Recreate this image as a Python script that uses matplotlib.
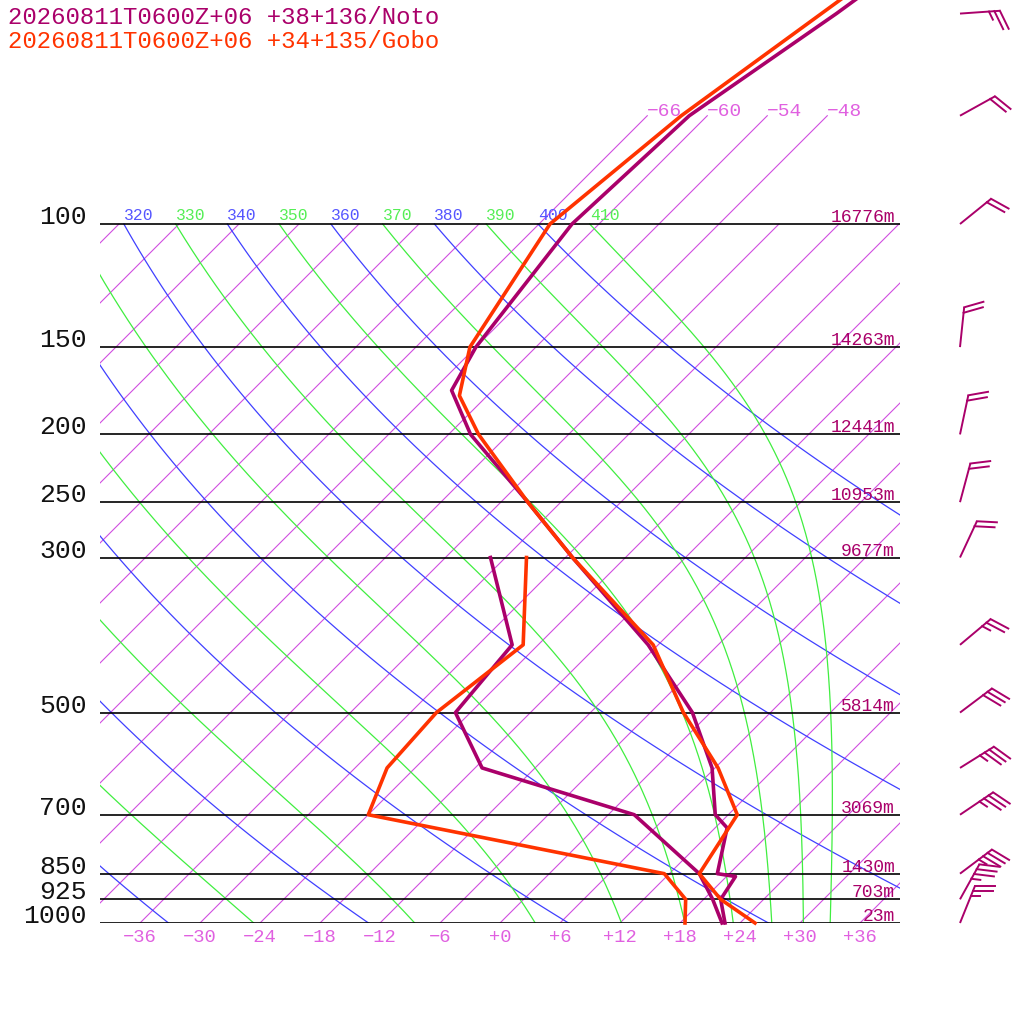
import numpy as np
import matplotlib
matplotlib.use("Agg")
import matplotlib.pyplot as plt
from matplotlib import transforms

plt.rcParams['font.family'] = ['Liberation Mono', 'DejaVu Sans Mono']

# ---------------- data ----------------
noto_name = "20260811T0600Z+06 +38+136/Noto"
gobo_name = "20260811T0600Z+06 +34+135/Gobo"

noto_t_p = [1000, 925, 858, 850, 731, 700, 600, 500, 400, 300, 250, 200, 173, 150, 100, 70, 50, 40]
noto_t = [22.5, 19.7, 18.9, 16.8, 13.2, 10.7, 5.7, -1.8, -13.0, -29.3, -39.3, -51.8, -58.1, -60.0, -62.7, -61.8, -57.3, -54.8]
noto_td_p = [1000, 925, 850, 700, 600, 500, 400, 300]
noto_td = [22.2, 18.9, 15.0, 2.6, -17.3, -25.5, -26.6, -37.5]

gobo_t_p = [1000, 925, 850, 700, 600, 500, 400, 300, 250, 200, 176, 150, 100, 70, 50, 40]
gobo_t = [25.5, 19.7, 15.0, 12.9, 6.3, -2.7, -12.5, -29.3, -39.3, -51.0, -56.8, -60.6, -64.9, -62.6, -58.8, -56.3]
gobo_td_p = [1000, 925, 850, 700, 600, 500, 400, 300]
gobo_td = [18.5, 16.2, 11.5, -24.0, -26.8, -27.4, -25.5, -33.9]

levels = [1000, 925, 850, 700, 500, 300, 250, 200, 150, 100]
heights = ["23m", "703m", "1430m", "3069m", "5814m", "9677m", "10953m", "12441m", "14263m", "16776m"]

# Noto winds (direction from, speed kt)
wind_p = [50, 70, 100, 150, 200, 250, 300, 400, 500, 600, 700, 850, 925, 1000]
wind_dir = [86, 61, 51, 6, 12, 15, 25, 50, 53, 58, 56, 53, 29, 22]
wind_spd = [25, 20, 20, 20, 20, 20, 20, 25, 30, 35, 35, 35, 35, 25]

iso_t = list(range(-108, 37, 6))
iso_top_t = [-66, -60, -54, -48]
t_ticks = list(range(-36, 37, 6))
dry_theta = [240, 260, 280, 300, 320, 340, 360, 380, 400]
moist_theta = [250, 270, 290, 310, 330, 350, 370, 390, 410]

noto_c = '#aa006a'
gobo_c = '#ff3300'
iso_c = '#d04ee0'
iso_lab_c = '#e060e0'
dry_c = '#4040ff'
moist_c = '#40ee40'

# ---------------- figure ----------------
W, H = 1024, 1024
fig = plt.figure(figsize=(W / 100, H / 100), dpi=100)
ax = fig.add_axes([100 / W, 101 / H, 800 / W, 923 / H])
ax.set_yscale('log')
ax.set_xlim(-40, 40)
p_top = 1000 * 10 ** (-923 / 699)
ax.set_ylim(1000, p_top)
ax.set_axis_off()

# 45 degree skew in screen space
skew = transforms.Affine2D(np.array([[1, 923 / 800, 0], [0, 1, 0], [0, 0, 1]]))
sk = ax.transScale + ax.transLimits + skew + ax.transAxes


def off(t, dx=0, dy=0):
    return transforms.offset_copy(t, fig=fig, x=dx, y=dy, units='dots')


def theta_label(tt, th, color):
    # only labels that reach into the plot box
    if tt >= -114:
        ax.text(tt, 100, str(th), transform=off(sk, 0, 4), ha='left', va='baseline',
                color=color, fontsize=11.8, clip_on=True)


# isotherms
for t in iso_t:
    top = 70 if t in iso_top_t else 100
    ax.plot([t, t], [1000, top], transform=sk, color=iso_c, lw=0.8, zorder=1)
for t in iso_top_t:
    ax.text(t, 70, f"{t:+d}".replace('-', '\u2212'), transform=off(sk, 0, 4),
            ha='left', va='center', color=iso_lab_c, fontsize=14)

# dry adiabats
pp = np.geomspace(1000, 100, 80)
for th in dry_theta:
    tt = th * (pp / 1000) ** 0.286 - 273.15
    ax.plot(tt, pp, transform=sk, color=dry_c, lw=0.9, zorder=1)
    theta_label(tt[-1], th, '#5555ff')


# moist adiabats: integrate the saturated lapse rate down from 100 hPa
Rd, Cp, Lv, eps = 287.04, 1004.67, 2.501e6, 0.622


def dT_dlnp(tk, p):
    tc = tk - 273.15
    es = 6.112 * np.exp(17.67 * tc / (tc + 243.5))
    rs = eps * es / (p - es)
    return (Rd * tk + Lv * rs) / (Cp + Lv * Lv * rs * eps / (Rd * tk * tk))


lnp = np.linspace(np.log(100), np.log(1000), 240)
for th in moist_theta:
    tk = th * 0.1 ** 0.286
    tl = [tk]
    for i in range(len(lnp) - 1):
        h = lnp[i + 1] - lnp[i]
        p0, p1, pm = np.exp(lnp[i]), np.exp(lnp[i + 1]), np.exp(lnp[i] + h / 2)
        k1 = dT_dlnp(tk, p0)
        k2 = dT_dlnp(tk + h * k1 / 2, pm)
        k3 = dT_dlnp(tk + h * k2 / 2, pm)
        k4 = dT_dlnp(tk + h * k3, p1)
        tk = tk + h * (k1 + 2 * k2 + 2 * k3 + k4) / 6
        tl.append(tk)
    tt = np.array(tl) - 273.15
    ax.plot(tt, np.exp(lnp), transform=sk, color=moist_c, lw=0.9, zorder=1)
    theta_label(tt[0], th, '#55ee55')

# isobars and labels
for p, h in zip(levels, heights):
    ax.plot([-40, 40], [p, p], color='k', lw=1.2, zorder=2)
    ax.text(-41.3, p, str(p), transform=off(ax.transData, 0, 7), ha='right', va='center',
            fontsize=19, color='#111111', clip_on=False)
    ax.text(39.5, p, h, transform=off(ax.transData, 0, 2), ha='right', va='baseline',
            fontsize=13, color=noto_c, zorder=3)

for t in t_ticks:
    ax.text(t, 1000, f"{t:+d}".replace('-', '\u2212'), transform=off(ax.transData, 0, -14),
            ha='center', va='center', fontsize=13.5, color=iso_lab_c, clip_on=False)

# profiles
ax.plot(noto_td, noto_td_p, transform=sk, color=noto_c, lw=2.6, zorder=5, clip_on=False)
ax.plot(gobo_td, gobo_td_p, transform=sk, color=gobo_c, lw=2.6, zorder=5, clip_on=False)
ax.plot(noto_t, noto_t_p, transform=sk, color=noto_c, lw=2.6, zorder=6, clip_on=False)
ax.plot(gobo_t, gobo_t_p, transform=sk, color=gobo_c, lw=2.6, zorder=6, clip_on=False)

# titles
fig.text(8 / W, 1 - 17 / H, noto_name, color=noto_c, fontsize=17.3, ha='left', va='center')
fig.text(8 / W, 1 - 41 / H, gobo_name, color=gobo_c, fontsize=17.3, ha='left', va='center')

# wind barbs in pixel space
bax = fig.add_axes([0, 0, 1, 1])
bax.set_xlim(0, W)
bax.set_ylim(0, H)
bax.set_axis_off()

staff_len = 40
full_len = 20
half_len = 9
step = 5.5
for p, d, s in zip(wind_p, wind_dir, wind_spd):
    y0 = ax.transData.transform((0, p))[1]
    x0 = 960
    a = np.deg2rad(90 - d)
    ux, uy = np.cos(a), np.sin(a)
    tx, ty = x0 + staff_len * ux, y0 + staff_len * uy
    bax.plot([x0, tx], [y0, ty], color=noto_c, lw=1.4, solid_capstyle='butt')
    fa = a - np.deg2rad(68)
    fx, fy = np.cos(fa), np.sin(fa)
    pos = 0.0
    for i in range(int(s // 10)):
        sx, sy = tx - pos * ux, ty - pos * uy
        bax.plot([sx, sx + full_len * fx], [sy, sy + full_len * fy], color=noto_c, lw=1.4)
        pos += step
    if s % 10 >= 5:
        sx, sy = tx - pos * ux, ty - pos * uy
        bax.plot([sx, sx + half_len * fx], [sy, sy + half_len * fy], color=noto_c, lw=1.4)

fig.savefig("out.png", dpi=100)
